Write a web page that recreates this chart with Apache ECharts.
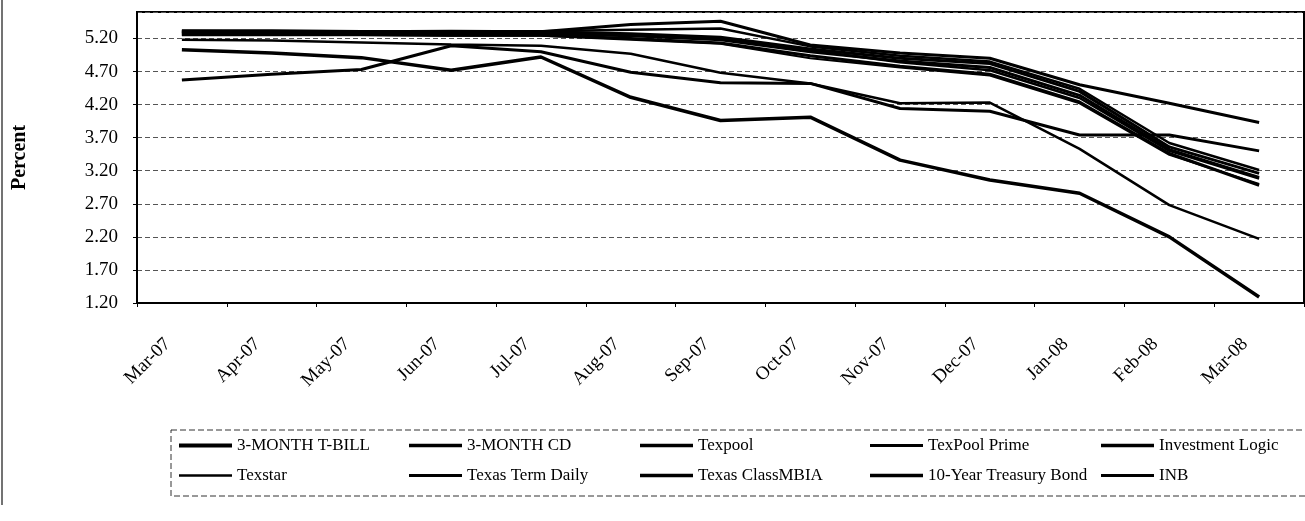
<!DOCTYPE html>
<html>
<head>
<meta charset="utf-8">
<script src="https://cdn.jsdelivr.net/npm/echarts@6/dist/echarts.min.js"></script>
<style>
  html, body { margin: 0; padding: 0; background: #fff; }
  #chart { width: 1305px; height: 521px; }
</style>
</head>
<body>
<div id="chart"></div>
<script>
// months on the category axis
const months = ['Mar-07', 'Apr-07', 'May-07', 'Jun-07', 'Jul-07', 'Aug-07', 'Sep-07',
  'Oct-07', 'Nov-07', 'Dec-07', 'Jan-08', 'Feb-08', 'Mar-08']

// y tick labels (percent)
const yTicks = [1.2, 1.7, 2.2, 2.7, 3.2, 3.7, 4.2, 4.7, 5.2]

// rates, one array per series
const tBill3m = [5.03, 4.98, 4.91, 4.72, 4.92, 4.31, 3.96, 4.01, 3.36, 3.06, 2.86, 2.20, 1.29]
const cd3m = [5.31, 5.30, 5.30, 5.31, 5.30, 5.41, 5.46, 5.10, 4.98, 4.90, 4.50, 4.22, 3.93]
const texpool = [5.26, 5.26, 5.26, 5.25, 5.25, 5.20, 5.13, 4.94, 4.78, 4.66, 4.24, 3.46, 2.98]
const texpoolPrime = [5.32, 5.32, 5.31, 5.31, 5.31, 5.33, 5.35, 5.08, 4.94, 4.85, 4.44, 3.62, 3.21]
const investmentLogic = [5.28, 5.28, 5.27, 5.27, 5.27, 5.24, 5.18, 5.00, 4.86, 4.76, 4.34, 3.52, 3.10]
const texstar = [5.25, 5.25, 5.25, 5.24, 5.24, 5.18, 5.12, 4.90, 4.76, 4.64, 4.22, 3.44, 3.00]
const texasTermDaily = [5.29, 5.29, 5.28, 5.28, 5.28, 5.25, 5.20, 5.02, 4.84, 4.72, 4.30, 3.50, 3.08]
const texasClassMbia = [5.30, 5.30, 5.30, 5.29, 5.30, 5.27, 5.22, 5.04, 4.90, 4.82, 4.40, 3.56, 3.16]
const treasury10y = [4.57, 4.66, 4.73, 5.09, 5.00, 4.69, 4.53, 4.52, 4.14, 4.10, 3.74, 3.74, 3.50]
const inb = [5.18, 5.17, 5.14, 5.11, 5.09, 4.97, 4.68, 4.52, 4.22, 4.23, 3.53, 2.68, 2.17]

const seriesList = [
  { name: '3-MONTH T-BILL', data: tBill3m, width: 3.5 },
  { name: '3-MONTH CD', data: cd3m, width: 3 },
  { name: 'Texpool', data: texpool, width: 3 },
  { name: 'TexPool Prime', data: texpoolPrime, width: 2.5 },
  { name: 'Investment Logic', data: investmentLogic, width: 3 },
  { name: 'Texstar', data: texstar, width: 2 },
  { name: 'Texas Term Daily', data: texasTermDaily, width: 2.5 },
  { name: 'Texas ClassMBIA', data: texasClassMbia, width: 3 },
  { name: '10-Year Treasury Bond', data: treasury10y, width: 3 },
  { name: 'INB', data: inb, width: 2.5 }
]

const serif = '"Liberation Serif", "DejaVu Serif", serif'

// legend sits in a 5 x 2 table like the Excel original
const legendCols = [179, 409, 640, 870, 1101]
const legendRows = [446, 476]

const chart = echarts.init(document.getElementById('chart'))

chart.setOption({
  backgroundColor: '#fff',
  animation: false,
  grid: {
    left: 137,
    right: 1,
    top: 12,
    bottom: 218,
    show: true,
    borderColor: '#000',
    borderWidth: 2
  },
  legend: seriesList.map((s, i) => ({
    data: [s.name],
    left: legendCols[i % 5],
    top: legendRows[Math.floor(i / 5)] - 9,
    padding: 0,
    icon: 'rect',
    itemWidth: 53,
    itemHeight: Math.max(2, s.width + 0.5),
    itemGap: 2,
    textStyle: { fontFamily: serif, fontSize: 17, color: '#000' }
  })),
  xAxis: {
    type: 'category',
    data: months,
    boundaryGap: true,
    axisLine: { lineStyle: { color: '#000', width: 2 } },
    axisTick: { show: true, length: 4, lineStyle: { color: '#000' } },
    axisLabel: {
      rotate: 45,
      margin: 24,
      padding: [0, 20, 0, 0],
      fontFamily: serif,
      fontSize: 19,
      color: '#000',
      interval: 0
    },
    splitLine: { show: false }
  },
  yAxis: {
    type: 'value',
    min: yTicks[0],
    max: 5.6,
    interval: 0.5,
    name: 'Percent',
    nameLocation: 'middle',
    nameRotate: 90,
    nameGap: 107,
    nameTextStyle: { fontFamily: serif, fontSize: 20, fontWeight: 'bold', color: '#000' },
    axisLine: { show: true, lineStyle: { color: '#000', width: 2 } },
    axisTick: { show: true, length: 4, lineStyle: { color: '#000' } },
    axisLabel: {
      margin: 19,
      fontFamily: serif,
      fontSize: 19,
      color: '#000',
      showMaxLabel: false,
      formatter: v => (yTicks.some(t => Math.abs(t - v) < 1e-6) ? v.toFixed(2) : '')
    },
    splitLine: { show: true, lineStyle: { color: '#555', width: 1, type: [5, 3] } }
  },
  series: seriesList.map(s => ({
    name: s.name,
    type: 'line',
    data: s.data,
    symbol: 'none',
    lineStyle: { color: '#000', width: s.width },
    itemStyle: { color: '#000' }
  })),
  graphic: [
    {
      type: 'line',
      shape: { x1: 2, y1: 0, x2: 2, y2: 505 },
      style: { stroke: '#444', lineWidth: 1.5 }
    },
    {
      type: 'rect',
      shape: { x: 171, y: 430, width: 1200, height: 66 },
      style: { fill: 'none', stroke: '#333', lineWidth: 1, lineDash: [6, 3] }
    }
  ]
})
</script>
</body>
</html>
